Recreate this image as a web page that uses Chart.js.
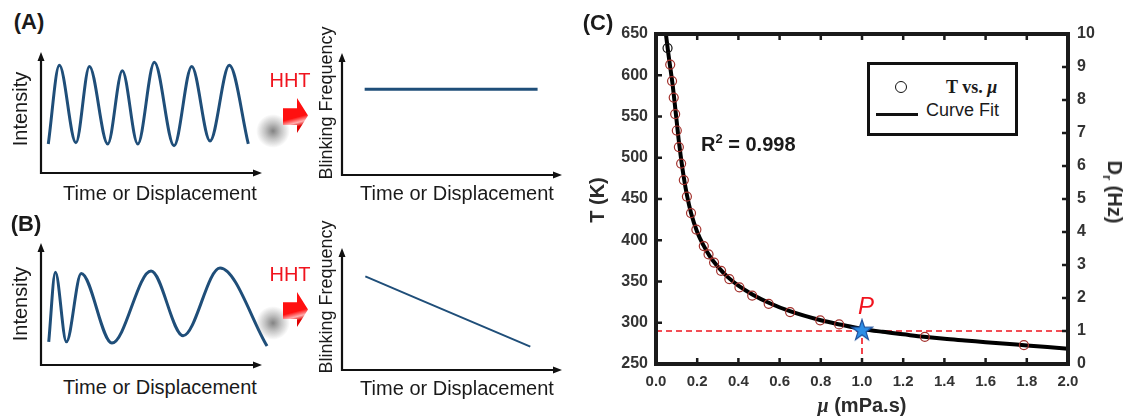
<!DOCTYPE html>
<html>
<head>
<meta charset="utf-8">
<script src="https://cdn.jsdelivr.net/npm/chart.js@4.4.1/dist/chart.umd.min.js"></script>
<style>
body{margin:0;background:#fff;width:1126px;height:416px;overflow:hidden;position:relative;font-family:"Liberation Sans",Arial,sans-serif;color:#1a1a1a;}
canvas{position:absolute;}
.t{position:absolute;white-space:nowrap;line-height:1;transform:translate(-50%,-50%);}
.l{position:absolute;white-space:nowrap;line-height:1;transform:translate(0,-50%);}
.rot{transform:translate(-50%,-50%) rotate(-90deg);}
.rot2{transform:translate(-50%,-50%) rotate(90deg);}
.b{font-weight:bold;}
.tag{font-size:22px;font-weight:bold;}
.lab{font-size:20px;}
.bf{font-size:18px;}
.hht{font-size:20px;color:#f0141e;}
.arr{position:absolute;width:25px;height:35px;clip-path:polygon(0 29%,56% 29%,56% 0,100% 50%,56% 100%,56% 77%,0 77%);
  background:linear-gradient(165deg,#ff1010 55%,#ffb0b0 68%,#e00000 78%);}
.shadow{position:absolute;width:34px;height:34px;transform:translate(-50%,-50%);border-radius:50%;
  background:radial-gradient(circle,rgba(110,110,110,.85) 0%,rgba(150,150,150,.55) 35%,rgba(255,255,255,0) 70%);}
.c{color:#2b2b2b;}
</style>
</head>
<body>
<!-- panel A / B schematics -->
<canvas id="aLeft" width="241" height="141" style="left:31px;top:42px"></canvas>
<canvas id="aRight" width="240" height="142" style="left:332px;top:43px"></canvas>
<canvas id="bLeft" width="241" height="142" style="left:31px;top:233px"></canvas>
<canvas id="bRight" width="240" height="142" style="left:332px;top:238px"></canvas>
<!-- panel C -->
<canvas id="chartC" width="546" height="416" style="left:580px;top:0px"></canvas>

<div class="t tag" style="left:29px;top:22px">(A)</div>
<div class="t tag" style="left:26px;top:224px">(B)</div>
<div class="t tag" style="left:598px;top:23px">(C)</div>

<div class="t lab rot" style="left:20px;top:109px">Intensity</div>
<div class="t lab" style="left:160px;top:193px">Time or Displacement</div>
<div class="t bf rot" style="left:326px;top:103px">Blinking Frequency</div>
<div class="t lab" style="left:457px;top:193px">Time or Displacement</div>
<div class="t hht" style="left:290px;top:80px">HHT</div>
<div class="shadow" style="left:273px;top:131px"></div>
<div class="arr" style="left:283px;top:98px"></div>

<div class="t lab rot" style="left:20px;top:304px">Intensity</div>
<div class="t lab" style="left:160px;top:387px">Time or Displacement</div>
<div class="t bf rot" style="left:326px;top:297px">Blinking Frequency</div>
<div class="t lab" style="left:457px;top:388px">Time or Displacement</div>
<div class="t hht" style="left:290px;top:274px">HHT</div>
<div class="shadow" style="left:273px;top:323px"></div>
<div class="arr" style="left:283px;top:292px"></div>

<div class="t b c rot" style="left:597px;top:200px;font-size:20px">T (K)</div>
<div class="t b c" style="left:862px;top:405px;font-size:20px"><span style="font-family:'Liberation Serif',serif;font-style:italic">μ</span> (mPa.s)</div>
<div class="t b c rot2" style="left:1113px;top:192px;font-size:20px">D<sub style="font-size:13px">r</sub> (Hz)</div>
<div class="l b" style="left:701px;top:143px;font-size:20px">R<sup style="font-size:13px">2</sup> = 0.998</div>
<div class="l" style="left:858px;top:306px;font-size:24px;font-style:italic;color:#f0141e">P</div>

<div style="position:absolute;left:867px;top:62px;width:151px;height:74px;border:3px solid #111;box-sizing:border-box;background:#fff"></div>
<div style="position:absolute;left:895px;top:81px;width:10px;height:10px;border:1.6px solid #111;border-radius:50%"></div>
<div class="l b" style="left:946px;top:87px;font-size:18px;font-family:'Liberation Serif',serif">T vs. <i>μ</i></div>
<div style="position:absolute;left:876px;top:113px;width:42px;height:3px;background:#111"></div>
<div class="l" style="left:926px;top:110px;font-size:18px">Curve Fit</div>

<script>
// ---- data ----
// (C) temperature vs viscosity
const muData = [0.056, 0.069, 0.078, 0.086, 0.093, 0.101, 0.111, 0.122, 0.135, 0.150, 0.170, 0.196, 0.232, 0.255, 0.282, 0.316, 0.356, 0.405, 0.467, 0.547, 0.651, 0.797, 0.889, 1.305, 1.786];
const tData  = [633, 613, 593, 573, 553, 533, 513, 493, 473, 453, 433, 413, 393, 383, 373, 363, 353, 343, 333, 323, 313, 303, 298, 283, 273];
const fitMu = [0.048, 0.055, 0.06, 0.07, 0.08, 0.09, 0.10, 0.11, 0.12, 0.135, 0.15, 0.17, 0.20, 0.23, 0.26, 0.30, 0.35, 0.40, 0.47, 0.55, 0.65, 0.80, 0.90, 1.0, 1.1, 1.2, 1.3, 1.4, 1.5, 1.6, 1.7, 1.8, 1.9, 2.0];
const fitT  = [650, 636, 626, 608, 590, 568, 545, 522, 502, 476, 455, 433, 410, 394, 381, 368, 355, 345, 334, 324, 314, 303, 297.5, 292.5, 289, 286, 283, 280.5, 278.5, 276.5, 274.5, 272.5, 270.5, 268.5];
const pointMu = [1.0];
const pointT = [291];
const refD = 1;          // dashed line on right axis (Hz)
const refMu = 1.0;       // dashed vertical line

// (A) / (B) schematic curves, axis units 0..100
const waveAx = [3.3, 8.3, 15.8, 21.9, 30.2, 36.8, 43.8, 51.3, 60.2, 68.2, 76.5, 85.2, 93.8];
const waveAy = [24, 89, 25, 88, 24, 84.5, 24, 91.5, 22.5, 88, 26.5, 89, 24];
const freqAx = [10.3, 88.9];
const freqAy = [70.2, 70.2];
const waveBx = [3.5, 6.5, 11.5, 18.2, 32.1, 49.8, 64.3, 81, 102.3];
const waveBy = [19, 76, 19, 75, 18, 77, 24, 79.5, 15.5];
const freqBx = [10.6, 85.6];
const freqBy = [76.7, 19.1];

const ink = '#111';
const blue = '#1f4e79';

// axes drawn as arrows for the schematics
const arrowAxes = {
  id: 'arrowAxes',
  afterDraw(chart) {
    const {ctx, chartArea: a} = chart;
    ctx.save();
    ctx.strokeStyle = ink; ctx.fillStyle = ink; ctx.lineWidth = 2.2;
    ctx.beginPath();
    ctx.moveTo(a.left, a.top + 6); ctx.lineTo(a.left, a.bottom); ctx.lineTo(a.right - 6, a.bottom);
    ctx.stroke();
    ctx.beginPath();
    ctx.moveTo(a.left, a.top); ctx.lineTo(a.left - 3.5, a.top + 9); ctx.lineTo(a.left + 3.5, a.top + 9); ctx.closePath();
    ctx.moveTo(a.right, a.bottom); ctx.lineTo(a.right - 9, a.bottom - 3.5); ctx.lineTo(a.right - 9, a.bottom + 3.5); ctx.closePath();
    ctx.fill();
    ctx.restore();
  }
};

function schematic(id, xs, ys, width) {
  new Chart(document.getElementById(id), {
    type: 'line',
    data: {
      datasets: [{
        data: xs.map((x, i) => ({x: x, y: ys[i]})),
        borderColor: blue,
        borderWidth: width,
        pointRadius: 0,
        cubicInterpolationMode: 'monotone',
        clip: false
      }]
    },
    options: {
      responsive: false,
      animation: false,
      layout: {padding: 10},
      plugins: {legend: {display: false}, tooltip: {enabled: false}},
      scales: {
        x: {type: 'linear', display: false, min: 0, max: 100},
        y: {display: false, min: 0, max: 100}
      }
    },
    plugins: [arrowAxes]
  });
}

schematic('aLeft', waveAx, waveAy, 3);
schematic('aRight', freqAx, freqAy, 3);
schematic('bLeft', waveBx, waveBy, 3);
schematic('bRight', freqBx, freqBy, 2);

// filled blue star for point P
const star = document.createElement('canvas');
star.width = 24; star.height = 24;
(function () {
  const c = star.getContext('2d');
  c.beginPath();
  for (let i = 0; i < 10; i++) {
    const r = i % 2 ? 4.3 : 11;
    const ang = -Math.PI / 2 + i * Math.PI / 5;
    c.lineTo(12 + r * Math.cos(ang), 12.5 + r * Math.sin(ang));
  }
  c.closePath();
  c.fillStyle = '#2d8ee6'; c.fill();
  c.strokeStyle = '#1b4f9c'; c.lineWidth = 1.2; c.stroke();
})();

// frame with inward ticks on all four sides
const frame = {
  id: 'frame',
  afterDraw(chart) {
    const {ctx, chartArea: a, scales} = chart;
    ctx.save();
    ctx.strokeStyle = '#1a1a1a';
    ctx.lineWidth = 2.5;
    ctx.beginPath();
    scales.x.ticks.forEach(t => {
      const p = scales.x.getPixelForValue(t.value);
      ctx.moveTo(p, a.bottom); ctx.lineTo(p, a.bottom - 6);
      ctx.moveTo(p, a.top); ctx.lineTo(p, a.top + 6);
    });
    scales.y.ticks.forEach(t => {
      const p = scales.y.getPixelForValue(t.value);
      ctx.moveTo(a.left, p); ctx.lineTo(a.left + 6, p);
    });
    scales.y2.ticks.forEach(t => {
      const p = scales.y2.getPixelForValue(t.value);
      ctx.moveTo(a.right, p); ctx.lineTo(a.right - 6, p);
    });
    ctx.stroke();
    ctx.lineWidth = 4;
    ctx.strokeRect(a.left, a.top, a.width, a.height);
    ctx.restore();
  }
};

const tickFont = {family: 'Liberation Sans', weight: 'bold', size: 16};

new Chart(document.getElementById('chartC'), {
  type: 'scatter',
  data: {
    datasets: [
      {
        data: pointMu.map((m, i) => ({x: m, y: pointT[i]})),
        pointStyle: star,
        yAxisID: 'y'
      },
      {
        data: muData.map((m, i) => ({x: m, y: tData[i]})),
        pointRadius: 4.5,
        pointBorderWidth: 1.2,
        pointBorderColor: muData.map((m, i) => i === 0 ? '#111' : '#a3312c'),
        pointBackgroundColor: 'rgba(0,0,0,0)',
        yAxisID: 'y'
      },
      {
        data: fitMu.map((m, i) => ({x: m, y: fitT[i]})),
        showLine: true,
        borderColor: '#000',
        borderWidth: 4,
        pointRadius: 0,
        cubicInterpolationMode: 'monotone',
        yAxisID: 'y'
      },
      {
        data: [{x: 0, y: refD}, {x: 2, y: refD}],
        showLine: true,
        borderColor: '#f0141e',
        borderWidth: 1.6,
        borderDash: [6, 4],
        pointRadius: 0,
        yAxisID: 'y2'
      },
      {
        data: [{x: refMu, y: 250}, {x: refMu, y: pointT[0]}],
        showLine: true,
        borderColor: '#f0141e',
        borderWidth: 1.6,
        borderDash: [6, 4],
        pointRadius: 0,
        yAxisID: 'y'
      }
    ]
  },
  options: {
    responsive: false,
    animation: false,
    layout: {padding: {top: 34, left: 0, right: 0, bottom: 0}},
    plugins: {legend: {display: false}, tooltip: {enabled: false}},
    scales: {
      x: {
        type: 'linear', min: 0, max: 2,
        grid: {display: false, drawTicks: false},
        border: {display: false},
        ticks: {stepSize: 0.2, padding: 9, color: '#333', font: {family: 'Liberation Sans', weight: 'bold', size: 15},
          callback: v => v.toFixed(1)},
        afterFit: s => { s.height = 52; }
      },
      y: {
        position: 'left', min: 250, max: 650,
        grid: {display: false, drawTicks: false},
        border: {display: false},
        ticks: {stepSize: 50, padding: 8, color: '#333', font: tickFont},
        afterFit: s => { s.width = 76; }
      },
      y2: {
        position: 'right', min: 0, max: 10,
        grid: {display: false, drawTicks: false},
        border: {display: false},
        ticks: {stepSize: 1, padding: 9, color: '#333', font: tickFont},
        afterFit: s => { s.width = 58; }
      }
    }
  },
  plugins: [frame]
});
</script>
</body>
</html>
